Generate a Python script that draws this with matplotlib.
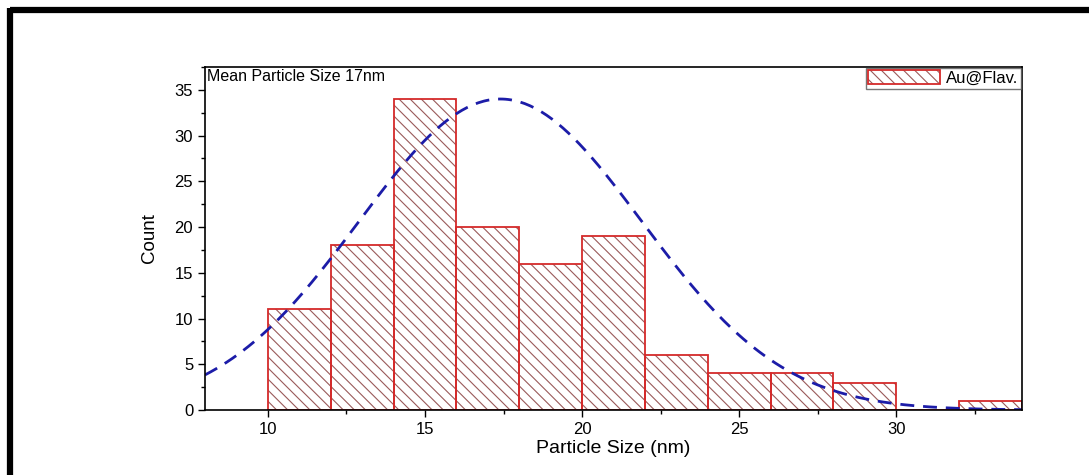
import numpy as np
import matplotlib
matplotlib.use("Agg")
import matplotlib.pyplot as plt
from matplotlib.lines import Line2D
from matplotlib.patches import Patch
from matplotlib.ticker import MultipleLocator

# istogramma (bordi dei bin e conteggi)
bin_edges = [10, 12, 14, 16, 18, 20, 22, 24, 26, 28, 30, 32, 34]
counts = [11, 18, 34, 20, 16, 19, 6, 4, 4, 3, 0, 1]

# parametri del fit gaussiano
fit_mean = 17.4
fit_sigma = 4.5
fit_peak = 34.0

plt.rcParams["font.family"] = ["Liberation Sans", "DejaVu Sans"]
plt.rcParams["hatch.linewidth"] = 0.8

hatch_col = "#9a5a5a"
edge_col = "#d42a2a"
hatch = "\\\\\\"

fig = plt.figure(figsize=(10.89, 4.75), dpi=100)
ax = fig.add_axes([205/1089, 1-410/475, (1022-205)/1089, (410-67)/475])

lefts = bin_edges[:-1]
widths = np.diff(bin_edges)
# prima il tratteggio, poi il contorno rosso
ax.bar(lefts, counts, width=widths, align="edge", facecolor="white",
       edgecolor=hatch_col, linewidth=0, hatch=hatch)
ax.bar(lefts, counts, width=widths, align="edge", fill=False,
       edgecolor=edge_col, linewidth=1.3)

xs = np.linspace(8, 34, 300)
ys = fit_peak * np.exp(-(xs - fit_mean)**2 / (2 * fit_sigma**2))
ax.plot(xs, ys, color="#1c1ca8", linewidth=2, linestyle=(0, (5, 3.2)))

ax.set_xlim(8, 34)
ax.set_ylim(0, 37.5)
ax.xaxis.set_major_locator(MultipleLocator(5))
ax.xaxis.set_minor_locator(MultipleLocator(2.5))
ax.yaxis.set_major_locator(MultipleLocator(5))
ax.yaxis.set_minor_locator(MultipleLocator(2.5))
ax.tick_params(which="both", direction="out", labelsize=12, width=1)
ax.tick_params(which="major", length=5)
ax.tick_params(which="minor", length=3)
for s in ax.spines.values():
    s.set_linewidth(1.2)

ax.set_xlabel("Particle Size (nm)", fontsize=14, labelpad=2)
ax.set_ylabel("Count", fontsize=13.5, labelpad=12)
ax.text(0.003, 0.993, "Mean Particle Size 17nm", transform=ax.transAxes,
        ha="left", va="top", fontsize=11.5)

h_hatch = Patch(facecolor="white", edgecolor=hatch_col, linewidth=0, hatch=hatch)
h_edge = Patch(fill=False, edgecolor=edge_col, linewidth=1.3)
leg = ax.legend([(h_hatch, h_edge)], ["Au@Flav."], loc="upper right", fontsize=12,
                fancybox=False, borderaxespad=0.05, borderpad=0.15, handlelength=4.3,
                handleheight=0.9, handletextpad=0.4)
leg.get_frame().set_edgecolor("#555555")
leg.get_frame().set_linewidth(1)

# cornice nera (solo sopra e a sinistra)
fig.add_artist(Line2D([9.5/1089, 1], [1-10/475, 1-10/475], color="black", linewidth=4.5,
                      transform=fig.transFigure, solid_capstyle="butt"))
fig.add_artist(Line2D([9.5/1089, 9.5/1089], [0, 1-8/475], color="black", linewidth=4.5,
                      transform=fig.transFigure, solid_capstyle="butt"))

plt.savefig("out.png", dpi=100)
